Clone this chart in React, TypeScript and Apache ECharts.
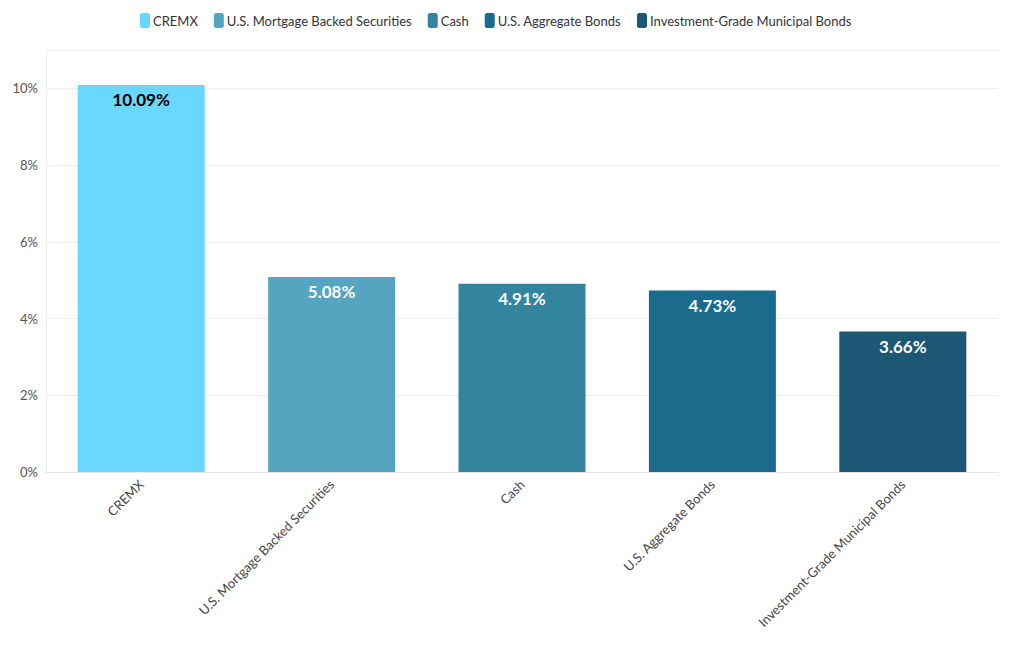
import React, { useEffect, useRef } from "react";
import * as echarts from "echarts";

const categories = [
  "CREMX",
  "U.S. Mortgage Backed Securities",
  "Cash",
  "U.S. Aggregate Bonds",
  "Investment-Grade Municipal Bonds",
];
const values = [10.09, 5.08, 4.91, 4.73, 3.66];
const colors = ["#6AD7FF", "#55A4C0", "#33849F", "#1A6B8C", "#1C5775"];
const labelColors = ["#000000", "#ffffff", "#ffffff", "#ffffff", "#ffffff"];

const FONT = "Lato, 'Noto Sans', sans-serif";

export default function App() {
  const ref = useRef<HTMLDivElement>(null);
  useEffect(() => {
    document.body.style.margin = "0";
    const chart = echarts.init(ref.current!, null, { renderer: "svg" });
    const series = categories.map((name, i) => ({
      name,
      type: "bar",
      stack: "all",
      barWidth: "66.7%",
      data: categories.map((_, j) => (j === i ? values[i] : null)),
      itemStyle: { color: colors[i] },
      label: {
        show: true,
        position: "insideTop",
        distance: 6,
        formatter: (p: any) => p.value.toFixed(2) + "%",
        color: labelColors[i],
        fontWeight: "bold",
        fontSize: 17,
        fontFamily: FONT,
      },
    }));
    chart.setOption({
      animation: false,
      textStyle: { fontFamily: FONT },
      legend: {
        top: 8,
        left: 135,
        icon: "roundRect",
        itemWidth: 10,
        itemHeight: 15,
        itemGap: 16,
        textStyle: { fontSize: 13, color: "#333", fontFamily: FONT, padding: [0, 0, 0, -2] },
        data: categories,
      },
      grid: { left: 46, right: 22, top: 50, bottom: 178, containLabel: false },
      xAxis: {
        type: "category",
        data: categories,
        axisLine: { lineStyle: { color: "#e6e6e6" } },
        axisTick: { alignWithLabel: true, length: 5, lineStyle: { color: "#e6e6e6" } },
        axisLabel: {
          rotate: 45,
          fontSize: 13,
          color: "#444",
          fontFamily: FONT,
          margin: 10,
        },
      },
      yAxis: {
        type: "value",
        min: 0,
        max: 11,
        interval: 2,
        axisLine: { show: true, lineStyle: { color: "#eeeeee" } },
        axisTick: { show: false },
        splitLine: { lineStyle: { color: "#eeeeee" } },
        axisLabel: {
          fontSize: 13,
          color: "#555",
          fontFamily: FONT,
          formatter: (v: number) => (v % 2 === 0 ? v + "%" : ""),
        },
      },
      series,
    });
    return () => chart.dispose();
  }, []);
  return <div ref={ref} style={{ width: 1020, height: 650 }} />;
}
